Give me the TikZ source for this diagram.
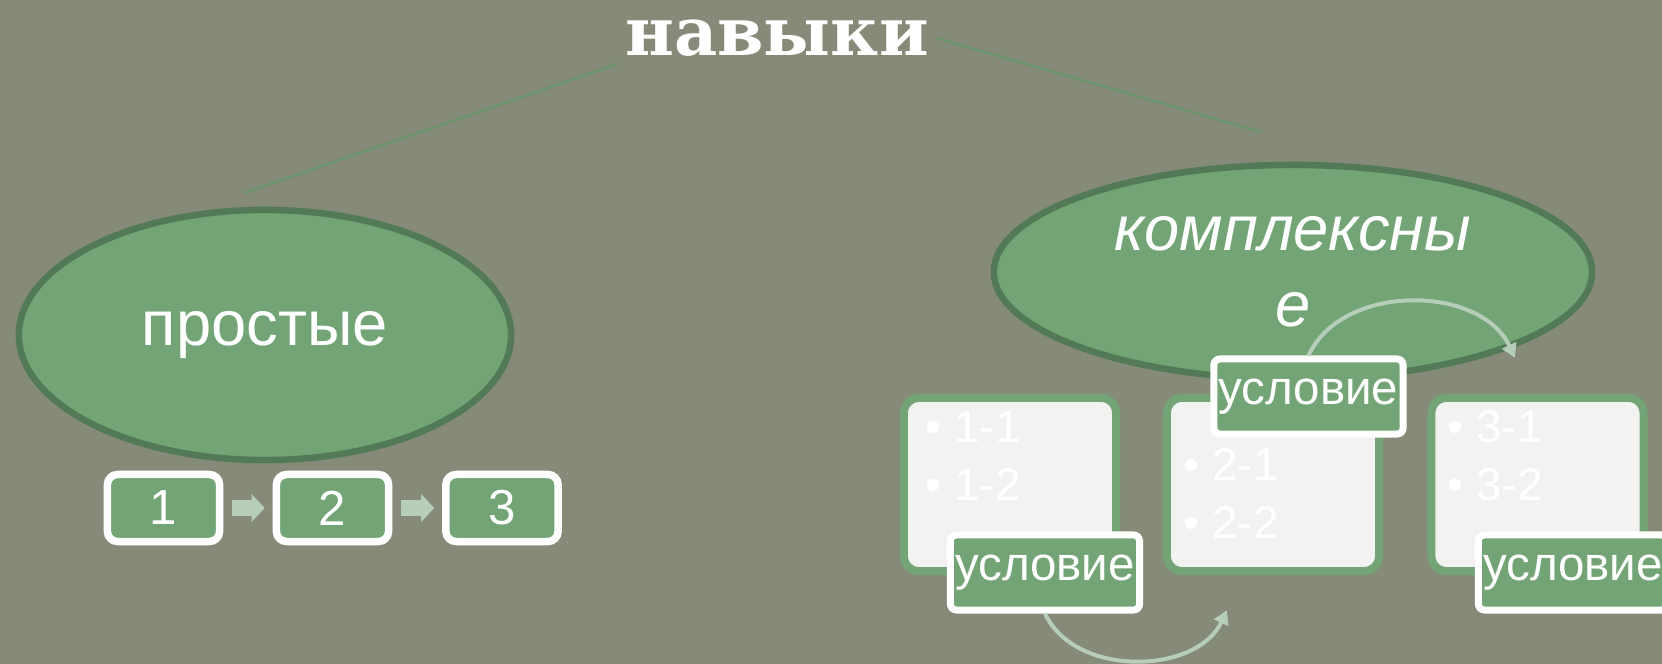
\documentclass[tikz,border=0pt]{standalone}
\usepackage{fontspec}
\setmainfont{Liberation Sans}
\newfontfamily\titlefont{DejaVu Serif}
\usetikzlibrary{arrows.meta,shapes.geometric}
\definecolor{bgolive}{RGB}{134,138,120}
\definecolor{leaf}{RGB}{114,164,118}
\definecolor{leafdark}{RGB}{82,122,86}
\definecolor{mint}{RGB}{182,205,186}
\definecolor{paper}{RGB}{242,242,240}
\definecolor{titleline}{RGB}{104,150,108}
\tikzset{
	kind/.style={ellipse,draw=leafdark,line width=0.065cm,fill=leaf,text=white,font=\fontsize{18}{21.5}\selectfont,inner sep=0},
	stepbox/.style={draw=white,line width=0.075cm,fill=leaf,rounded corners=0.1cm,text=white,font=\fontsize{14}{16}\selectfont,minimum width=1.12cm,minimum height=0.67cm,inner sep=0},
	panel/.style={draw=leaf,line width=0.08cm,fill=paper,rounded corners=0.15cm,minimum width=2.12cm,minimum height=1.73cm,inner sep=0},
	items/.style={anchor=north west,inner sep=0,align=left,text=white,font=\fontsize{13}{16.5}\selectfont},
	cond/.style={draw=white,line width=0.07cm,fill=leaf,rounded corners=0.06cm,text=white,font=\fontsize{13.5}{16}\selectfont,minimum width=1.89cm,minimum height=0.75cm,inner sep=0},
	pusharrow/.style={mint,line width=0.15cm,-{Triangle[length=0.13cm,width=0.27cm]}},
	hop/.style={mint,line width=0.04cm,-{Triangle[length=0.14cm,width=0.15cm]}},
	branch/.style={titleline,line width=0.02cm}
}
\begin{document}
\begin{tikzpicture}[x=0.01cm,y=0.01cm]
	\fill[bgolive] (0,0) rectangle (1662,-664);
	\clip (0,0) rectangle (1662,-664);
	% title and its two branches
	\node[text=white,font=\titlefont\bfseries\fontsize{19}{24}\selectfont,inner sep=0.07cm] (title) at (777,-38) {навыки};
	\coordinate (simpletop) at (244,-193);
	\coordinate (complextop) at (1261,-132);
	\draw[branch] (title.south west) -- (simpletop);
	\draw[branch] (title.east) -- (complextop);
	% simple skills
	\node[kind,minimum width=4.92cm,minimum height=2.5cm] (simple) at (265,-335) {простые};
	\node[stepbox] (s1) at (163.5,-508) {1};
	\node[stepbox] (s2) at (332.5,-508) {2};
	\node[stepbox] (s3) at (502,-508) {3};
	\foreach \a/\b in {s1/s2,s2/s3}
		\draw[pusharrow,shorten <=0.09cm,shorten >=0.08cm] (\a) -- (\b);
	% complex skills
	\node[kind,font=\itshape\fontsize{18}{21.5}\selectfont,align=center,minimum width=5.98cm,minimum height=2.14cm] (complex) at (1293,-272) {комплексны\\е};
	\node[panel] (p1) at (1010,-484.5) {};
	\node[panel] (p2) at (1273,-484.5) {};
	\node[panel] (p3) at (1537.5,-484.5) {};
	\node[items] (l1) at (925,-410) {• 1-1\\• 1-2};
	\node[items] (l2) at (1183,-448) {• 2-1\\• 2-2};
	\node[items] (l3) at (1447,-410) {• 3-1\\• 3-2};
	\coordinate (hopa) at (1227,-610);
	\coordinate (hopb) at (1515,-358);
	\node[cond] (c1) at (1045,-572.5) {условие};
	\node[cond] (c2) at (1308.5,-396.5) {условие};
	\node[cond] (c3) at (1573,-572.5) {условие};
	\draw[hop] (c1.south) to[out=-65,in=-115] (hopa);
	\draw[hop] (c2.north) to[out=65,in=115] (hopb);
\end{tikzpicture}
\end{document}
